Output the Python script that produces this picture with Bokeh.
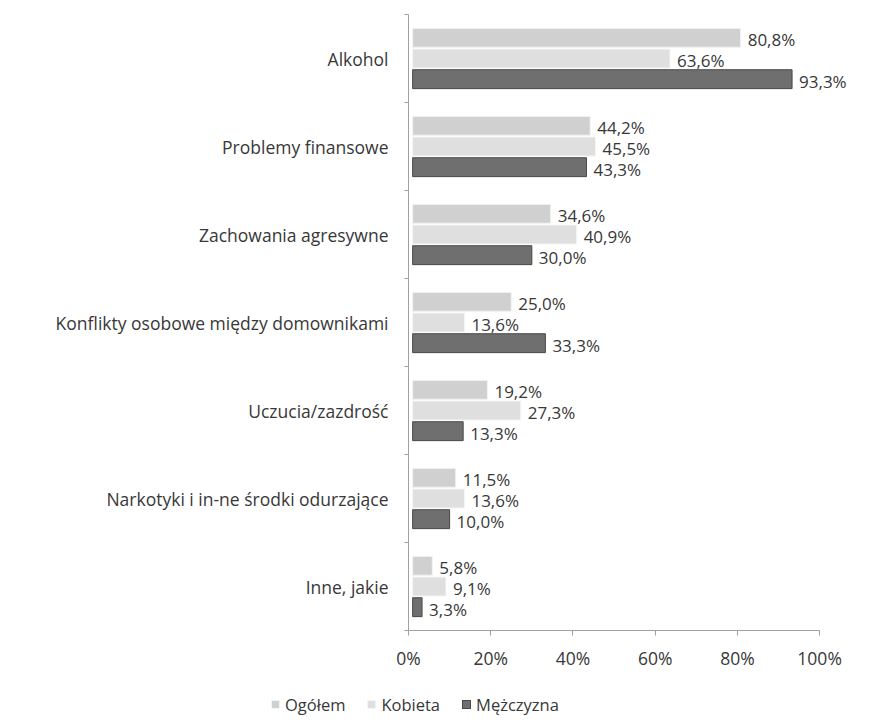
from bokeh.plotting import figure
from bokeh.layouts import column
from bokeh.models import (ColumnDataSource, FixedTicker, Range1d, LabelSet, Div)
from bokeh.core.properties import value
from bokeh.embed import file_html
from bokeh.resources import INLINE

categories = ["Alkohol", "Problemy finansowe", "Zachowania agresywne",
              "Konflikty osobowe między domownikami", "Uczucia/zazdrość",
              "Narkotyki i in-ne środki odurzające", "Inne, jakie"]
ogolem = [80.8, 44.2, 34.6, 25.0, 19.2, 11.5, 5.8]
kobieta = [63.6, 45.5, 40.9, 13.6, 27.3, 13.6, 9.1]
mezczyzna = [93.3, 43.3, 30.0, 33.3, 13.3, 10.0, 3.3]
series_names = ["Ogółem", "Kobieta", "Mężczyzna"]
x_ticks = [0, 20, 40, 60, 80, 100]

colors = ["#d0d0d0", "#dfdfdf", "#6f6f6f"]
borders = ["#f4f4f4", "#f4f4f4", "#4a4a4a"]
offsets = [0.235, 0.0, -0.235]
FONT = "Open Sans"
TXT = "#383838"

n = len(categories)
centers = [n - 0.5 - i for i in range(n)]

p = figure(width=857, height=672, output_backend="svg", toolbar_location=None,
           x_range=Range1d(0, 108), y_range=Range1d(0, n),
           min_border_left=408, min_border_right=5, min_border_top=14,
           min_border_bottom=41)
p.outline_line_color = None
p.xgrid.grid_line_color = None
p.ygrid.grid_line_color = None
p.background_fill_color = "white"

for vals, off, col, bc in zip([ogolem, kobieta, mezczyzna], offsets, colors, borders):
    src = ColumnDataSource(dict(y=[c + off for c in centers], right=vals,
                                left=[1.0] * n,
                                lab=[("%.1f%%" % v).replace(".", ",") for v in vals]))
    p.hbar(y="y", left="left", right="right", height=0.215, source=src,
           fill_color=col, line_color=bc, line_width=1)
    labels = LabelSet(x="right", y="y", text="lab", source=src, x_offset=7, y_offset=-2,
                      text_font=value(FONT), text_font_size="17px", text_color=TXT,
                      text_baseline="middle", text_align="left")
    p.add_layout(labels)

# y axis: labels at centers, minor ticks at group boundaries
p.yaxis.ticker = FixedTicker(ticks=centers, minor_ticks=list(range(0, n + 1)))
p.yaxis.major_label_overrides = {c: cat for c, cat in zip(centers, categories)}
p.yaxis.major_tick_line_color = None
p.yaxis.major_tick_out = 0
p.yaxis.major_tick_in = 0
p.yaxis.minor_tick_out = 4
p.yaxis.minor_tick_in = 0
p.yaxis.minor_tick_line_color = "#a0a0a0"
p.yaxis.axis_line_color = "#a0a0a0"
p.yaxis.major_label_text_font = FONT
p.yaxis.major_label_text_font_size = "17.5px"
p.yaxis.major_label_text_color = TXT
p.yaxis.major_label_standoff = 16

p.xaxis.ticker = FixedTicker(ticks=x_ticks, minor_ticks=[])
p.xaxis.bounds = (0, 100)
p.xaxis.major_label_overrides = {t: "%d%%" % t for t in x_ticks}
p.xaxis.major_tick_out = 5
p.xaxis.major_tick_in = 0
p.xaxis.major_tick_line_color = "#a0a0a0"
p.xaxis.axis_line_color = "#a0a0a0"
p.xaxis.major_label_text_font = FONT
p.xaxis.major_label_text_font_size = "17.5px"
p.xaxis.major_label_text_color = TXT
p.xaxis.major_label_standoff = 10

# legend as real HTML text below the chart
parts = []
for col, bc, name in zip(colors, borders, series_names):
    parts.append(
        '<span style="display:inline-block;width:9px;height:9px;background:%s;'
        'border:1px solid %s;margin-right:5px;vertical-align:middle;"></span>'
        '<span style="margin-right:22px;vertical-align:middle;">%s</span>' % (col, bc, name))
legend_html = ('<div style="padding-left:266px;padding-top:14px;white-space:nowrap;'
               'font-family:\'Open Sans\';font-size:16.5px;line-height:24px;color:%s;">%s</div>'
               % (TXT, "".join(parts)))
leg = Div(text=legend_html, width=857, height=46)

layout = column(p, leg, spacing=0)
open("out.html", "w").write(file_html(layout, INLINE))
